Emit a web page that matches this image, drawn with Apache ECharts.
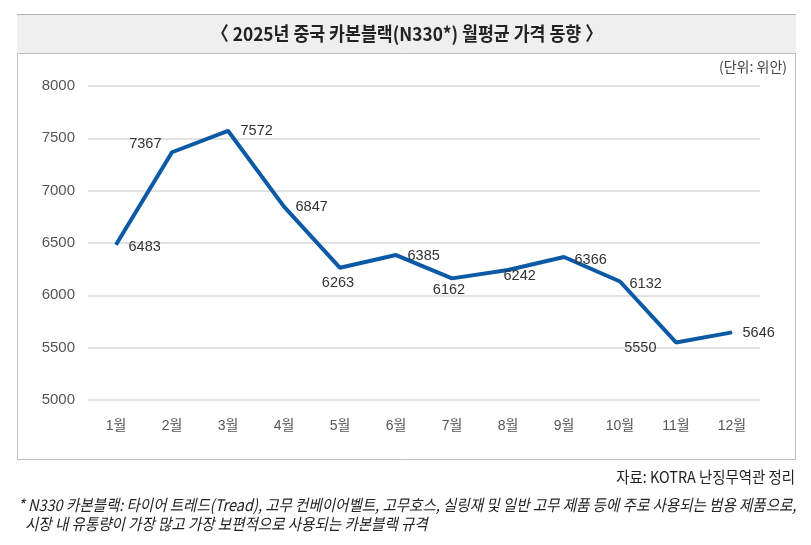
<!DOCTYPE html>
<html><head><meta charset="utf-8">
<script src="https://cdn.jsdelivr.net/npm/echarts@6/dist/echarts.min.js"></script>
<style>html,body{margin:0;padding:0;background:#fff}#c{width:811px;height:545px}</style>
</head><body><div id="c"></div>
<script>
const months = ['1월','2월','3월','4월','5월','6월','7월','8월','9월','10월','11월','12월'];
const prices = [6483,7367,7572,6847,6263,6385,6162,6242,6366,6132,5550,5646];
const yMin = 5000, yMax = 8000, yStep = 500;
const titleText = '〈 2025년 중국 카본블랙(N330*) 월평균 가격 동향 〉';
const unitText = '(단위: 위안)';
const sourceText = '자료: KOTRA 난징무역관 정리';
const noteLine1 = '* N330 카본블랙: 타이어 트레드(Tread), 고무 컨베이어벨트, 고무호스, 실링재 및 일반 고무 제품 등에 주로 사용되는 범용 제품으로,';
const noteLine2 = '시장 내 유통량이 가장 많고 가장 보편적으로 사용되는 카본블랙 규격';

// label placement (style only)
const labelPlace = [
  {position:'right', distance:12, offset:[0,2]},
  {position:'left', distance:10, offset:[0,-8]},
  {position:'right', distance:12, offset:[0,0]},
  {position:'right', distance:11, offset:[0,0]},
  {position:'bottom', distance:7, offset:[-2,0]},
  {position:'right', distance:11, offset:[0,1]},
  {position:'bottom', distance:4, offset:[-3,0]},
  {position:'right', distance:-5, offset:[0,6]},
  {position:'right', distance:10, offset:[0,3]},
  {position:'right', distance:9, offset:[0,2]},
  {position:'left', distance:19, offset:[0,6]},
  {position:'right', distance:10, offset:[0,1]}
];

const chart = echarts.init(document.getElementById('c'), null, {renderer:'canvas'});
const numFont = '"Liberation Sans", Arial, "Noto Sans CJK KR", sans-serif';
const krFont = '"Noto Sans CJK KR", sans-serif';

chart.setOption({
  animation:false,
  backgroundColor:'#fff',
  grid:{left:88, right:51, top:86, bottom:145, containLabel:false},
  xAxis:{
    type:'category', data:months, boundaryGap:true,
    axisLine:{show:false}, axisTick:{show:false},
    axisLabel:{color:'#555', fontSize:14, fontFamily:numFont, margin:19}
  },
  yAxis:{
    type:'value', min:yMin, max:yMax, interval:yStep,
    axisLine:{show:false}, axisTick:{show:false},
    axisLabel:{color:'#555', fontSize:15, fontFamily:numFont, margin:13, formatter:(v)=>String(v)},
    splitLine:{lineStyle:{color:'#d9d9d9', width:1.5}}
  },
  series:[{
    type:'line',
    data:prices.map((v,i)=>({value:v, label:labelPlace[i]})),
    symbol:'circle', symbolSize:1, showSymbol:true,
    lineStyle:{color:'#0c5aa6', width:4},
    itemStyle:{color:'#0c5aa6'},
    label:{show:true, color:'#333', fontSize:14.5, fontFamily:numFont},
    z:3
  }],
  graphic:[
    {type:'rect', shape:{x:17, y:14, width:779, height:39}, style:{fill:'#efefef', stroke:null}, z:0},
    {type:'line', shape:{x1:17, y1:14.5, x2:796, y2:14.5}, style:{stroke:'#b0b0b0', lineWidth:1}},
    {type:'rect', shape:{x:17.5, y:53.5, width:778, height:406}, style:{fill:'none', stroke:'#bfbfbf', lineWidth:1}},
    {type:'text', x:407, y:34, scaleX:0.91, originX:0, originY:0,
      style:{text:titleText, fill:'#222', font:'bold 19px ' + krFont, textAlign:'center', textVerticalAlign:'middle'}},
    {type:'text', x:787, y:67, style:{text:unitText, fill:'#444', font:'14px ' + krFont, textAlign:'right', textVerticalAlign:'middle'}},
    {type:'text', x:795, y:477, scaleX:0.9, originX:0, originY:0,
      style:{text:sourceText, fill:'#222', font:'16px ' + krFont, textAlign:'right', textVerticalAlign:'middle'}},
    {type:'text', x:18, y:505, scaleX:0.906, originX:0, originY:0,
      style:{text:noteLine1, fill:'#222', font:'italic 16px ' + krFont, textAlign:'left', textVerticalAlign:'middle'}},
    {type:'text', x:25, y:524, scaleX:0.906, originX:0, originY:0,
      style:{text:noteLine2, fill:'#222', font:'italic 16px ' + krFont, textAlign:'left', textVerticalAlign:'middle'}}
  ]
});
</script>
</body></html>
